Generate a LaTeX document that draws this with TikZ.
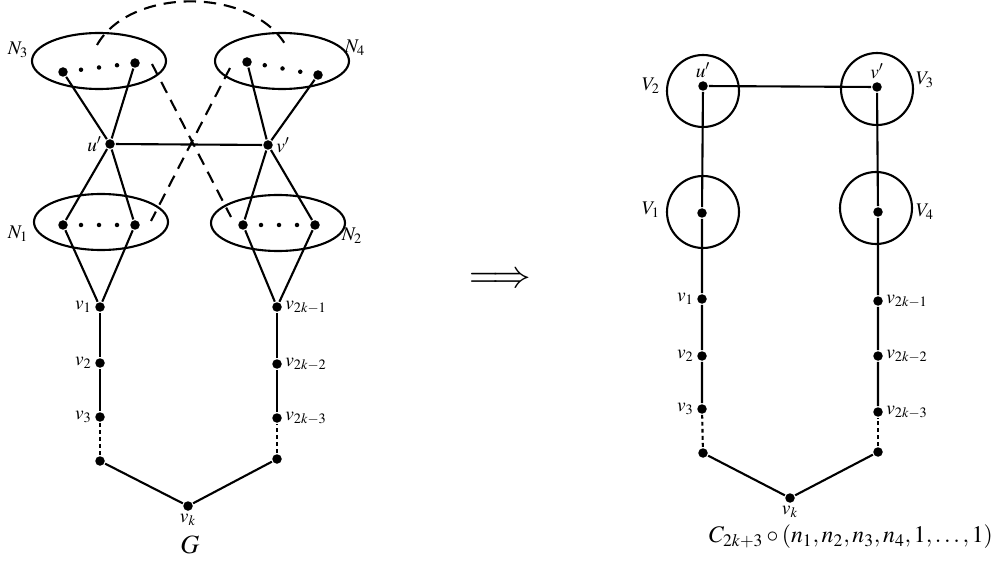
\documentclass[tikz,border=0pt]{standalone}
\usepackage{mathptmx}
\usetikzlibrary{calc, shapes.geometric}

\begin{document}
\begin{tikzpicture}[line width=1.2pt,
  vtx/.style={circle, fill, inner sep=0pt, minimum size=1.9mm},
  pt/.style={circle, fill, inner sep=0pt, minimum size=0.9mm},
  set/.style={ellipse, draw, inner sep=0pt, minimum width=2.68cm, minimum height=1.12cm},
  bag/.style={circle, draw, inner sep=0pt, minimum size=1.44cm},
  lbl/.style={font=\fontsize{11}{13}\selectfont, inner sep=0.8pt},
  far/.style={dash pattern=on 7pt off 4.5pt},
  gap/.style={dash pattern=on 2.2pt off 1.8pt}]
  \useasboundingbox (0,0) rectangle (20.06,11.28);

  % Levy graf G: mnoziny
  \node[set] (N3) at (1.98,10.06) {};
  \node[set] (N4) at (5.64,10.06) {};
  \node[set] (N1) at (2.02,6.84) {};
  \node[set] (N2) at (5.56,6.82) {};
  \node[lbl] (lN3) at (0.36,10.28) {$N_3$};
  \node[lbl] (lN4) at (7.10,10.32) {$N_4$};
  \node[lbl] (lN1) at (0.36,6.60) {$N_1$};
  \node[lbl] (lN2) at (7.04,6.56) {$N_2$};

  % Krajni vrcholy v mnozinach
  \node[vtx] (a3) at (1.26,9.84) {};
  \node[vtx] (b3) at (2.70,10.02) {};
  \node[vtx] (a4) at (4.94,10.04) {};
  \node[vtx] (b4) at (6.36,9.78) {};
  \node[vtx] (a1) at (1.26,6.78) {};
  \node[vtx] (b1) at (2.70,6.78) {};
  \node[vtx] (a2) at (4.86,6.78) {};
  \node[vtx] (b2) at (6.30,6.78) {};
  \foreach \s in {1,...,4}
    \foreach \t/\k in {0.25/1, 0.5/2, 0.75/3}
      \node[pt] (d\s\k) at ($(a\s)!\t!(b\s)$) {};

  % u', v' a cesta
  \node[vtx, label={[lbl]left:$u'$}] (u) at (2.20,8.40) {};
  \node[vtx, label={[lbl]right:$v'$}] (v) at (5.36,8.38) {};
  \node[vtx, label={[lbl]left:$v_1$}] (v1) at (2.00,5.14) {};
  \node[vtx, label={[lbl]left:$v_2$}] (v2) at (2.00,4.02) {};
  \node[vtx, label={[lbl]left:$v_3$}] (v3) at (2.00,2.94) {};
  \node[vtx] (vl) at (2.00,2.06) {};
  \node[vtx, label={[lbl]below:$v_k$}] (vk) at (3.76,1.16) {};
  \node[vtx] (vr) at (5.54,2.10) {};
  \node[vtx, label={[lbl]right:$v_{2k-3}$}] (w3) at (5.54,2.92) {};
  \node[vtx, label={[lbl]right:$v_{2k-2}$}] (w2) at (5.54,4.00) {};
  \node[vtx, label={[lbl]right:$v_{2k-1}$}] (w1) at (5.54,5.14) {};
  \node (G) at (3.80,0.38) {\fontsize{15}{17}\selectfont $G$};

  \draw (a3) -- (u) -- (b3);
  \draw (a1) -- (u) -- (b1);
  \draw (a4) -- (v) -- (b4);
  \draw (a2) -- (v) -- (b2);
  \draw (u) -- (v);
  \draw (a1) -- (v1) -- (b1);
  \draw (a2) -- (w1) -- (b2);
  \draw (v1) -- (v2) -- (v3);
  \draw[gap] (v3) -- (vl);
  \draw (vl) -- (vk) -- (vr);
  \draw[gap] (vr) -- (w3);
  \draw (w3) -- (w2) -- (w1);

  % Carkovane hrany
  \coordinate (p1) at (3.04,10.00);
  \coordinate (p2) at (4.62,6.94);
  \coordinate (p3) at (4.60,9.92);
  \coordinate (p4) at (3.02,6.86);
  \coordinate (p5) at (1.94,10.38);
  \coordinate (p6) at (5.70,10.40);
  \draw[far] (p1) -- (p2);
  \draw[far] (p3) -- (p4);
  \draw[far] (p5) .. controls (2.60,11.54) and (5.00,11.54) .. (p6);

  \node (arr) at (10.0,5.68) {\fontsize{22}{22}\selectfont\boldmath $\Longrightarrow$};

  % Pravy graf
  \node[bag] (V2) at (14.06,9.46) {};
  \node[bag] (V3) at (17.54,9.50) {};
  \node[bag] (V1) at (14.06,7.04) {};
  \node[bag] (V4) at (17.52,7.12) {};
  \node[lbl] (lV2) at (13.02,9.56) {$V_2$};
  \node[lbl] (lV3) at (18.50,9.68) {$V_3$};
  \node[lbl] (lV1) at (13.02,7.08) {$V_1$};
  \node[lbl] (lV4) at (18.50,7.04) {$V_4$};

  \node[vtx, label={[lbl]above:$u'$}] (ru) at (14.06,9.56) {};
  \node[vtx, label={[lbl]above:$v'$}] (rv) at (17.54,9.54) {};
  \node[vtx] (rx1) at (14.04,7.02) {};
  \node[vtx] (rx4) at (17.56,7.04) {};
  \node[vtx, label={[lbl]left:$v_1$}] (r1) at (14.04,5.30) {};
  \node[vtx, label={[lbl]left:$v_2$}] (r2) at (14.04,4.16) {};
  \node[vtx, label={[lbl]left:$v_3$}] (r3) at (14.04,3.10) {};
  \node[vtx] (rl) at (14.06,2.22) {};
  \node[vtx, label={[lbl]below:$v_k$}] (rk) at (15.80,1.32) {};
  \node[vtx] (rr) at (17.56,2.24) {};
  \node[vtx, label={[lbl]right:$v_{2k-3}$}] (s3) at (17.56,3.04) {};
  \node[vtx, label={[lbl]right:$v_{2k-2}$}] (s2) at (17.56,4.16) {};
  \node[vtx, label={[lbl]right:$v_{2k-1}$}] (s1) at (17.56,5.26) {};
  \node (C) at (17.02,0.54) {\fontsize{13.5}{15}\selectfont $C_{2k+3}\circ(n_1,n_2,n_3,n_4,1,\ldots,1)$};

  \draw (rv) -- (ru) -- (rx1) -- (r1) -- (r2) -- (r3);
  \draw[gap] (r3) -- (rl);
  \draw (rl) -- (rk) -- (rr);
  \draw[gap] (rr) -- (s3);
  \draw (s3) -- (s2) -- (s1) -- (rx4) -- (rv);
\end{tikzpicture}
\end{document}
